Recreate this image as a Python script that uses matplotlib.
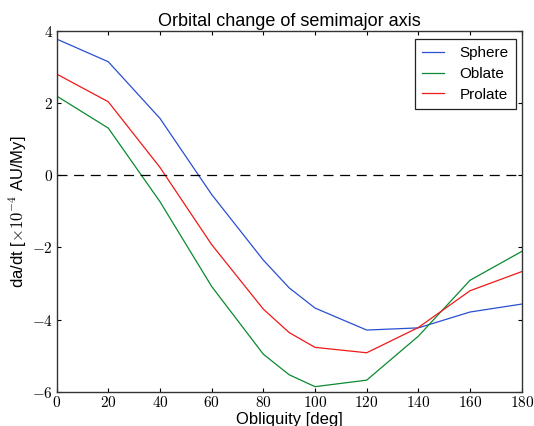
import matplotlib
matplotlib.use("Agg")
import matplotlib.pyplot as plt
from matplotlib.ticker import FuncFormatter

obliquity = [0, 20, 40, 60, 80, 90, 100, 120, 140, 160, 180]
sphere = [3.78, 3.15, 1.58, -0.53, -2.35, -3.12, -3.68, -4.29, -4.23, -3.79, -3.57]
oblate = [2.20, 1.31, -0.73, -3.08, -4.96, -5.53, -5.86, -5.68, -4.46, -2.91, -2.11]
prolate = [2.81, 2.04, 0.22, -1.92, -3.71, -4.36, -4.77, -4.92, -4.22, -3.20, -2.67]

plt.rcParams['font.family'] = ['Liberation Sans', 'DejaVu Sans']
plt.rcParams['mathtext.fontset'] = 'cm'

fig = plt.figure(figsize=(5.34, 4.26), dpi=100)
ax = fig.add_axes([0.106, 0.0805, 0.871, 0.8465])

ax.plot(obliquity, sphere, color='#2a4fd0', lw=0.9, label='Sphere')
ax.plot(obliquity, oblate, color='#0a8a30', lw=0.9, label='Oblate')
ax.plot(obliquity, prolate, color='#f01818', lw=0.9, label='Prolate')
ax.axhline(0, color='black', lw=0.9, ls=(0, (8, 5.3)))

ax.set_xlim(0, 180)
ax.set_ylim(-6, 4)
ax.set_xticks(range(0, 181, 20))
ax.set_yticks(range(-6, 5, 2))
fmt = FuncFormatter(lambda v, p: r'$%d$' % int(round(v)))
ax.xaxis.set_major_formatter(fmt)
ax.yaxis.set_major_formatter(fmt)
ax.tick_params(direction='in', top=True, right=True, length=2.8, width=0.8,
               labelsize=11, pad=2.5)
for s in ax.spines.values():
    s.set_linewidth(1.0)
    s.set_color('#333333')

ax.set_title('Orbital change of semimajor axis', fontsize=13, pad=4)
ax.set_xlabel('Obliquity [deg]', fontsize=12, labelpad=1)
ax.set_ylabel(r'da/dt [$\times\mathsf{10^{-4}}$ AU/My]', fontsize=12, labelpad=2)

leg = ax.legend(loc='upper right', bbox_to_anchor=(0.9871, 0.9778),
                fontsize=11, fancybox=False, framealpha=1,
                edgecolor='#222222', handlelength=1.45, handletextpad=1.05,
                borderaxespad=0.0, labelspacing=0.45, borderpad=0.45)
leg.get_frame().set_linewidth(0.9)

fig.savefig('out.png', dpi=100)
